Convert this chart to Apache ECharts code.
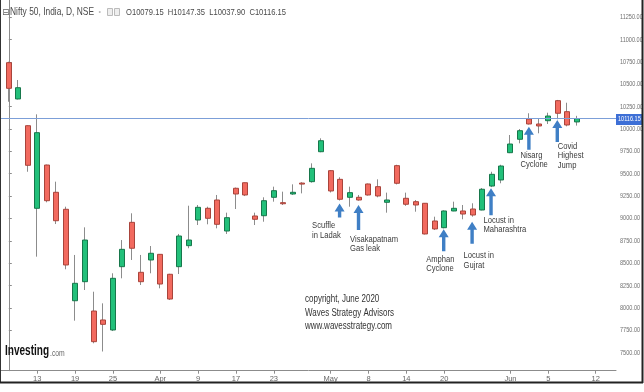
<!DOCTYPE html>
<html><head><meta charset="utf-8">
<script src="https://cdn.jsdelivr.net/npm/echarts@6/dist/echarts.min.js"></script>
<style>html,body{margin:0;padding:0;background:#fff}#c{width:644px;height:392px}</style>
</head><body><div id="c"></div>
<script>
// trading days (index 0 = 9 Mar 2020)
const dates = ['Mar 9','Mar 11','Mar 12','Mar 13','Mar 16','Mar 17','Mar 18','Mar 19','Mar 20','Mar 23','Mar 24','Mar 25','Mar 26','Mar 27','Mar 30','Mar 31',
  'Apr 1','Apr 3','Apr 7','Apr 8','Apr 9','Apr 13','Apr 15','Apr 16','Apr 17','Apr 20','Apr 21','Apr 22','Apr 23','Apr 24','Apr 27','Apr 28','Apr 29','Apr 30',
  'May 4','May 5','May 6','May 7','May 8','May 11','May 12','May 13','May 14','May 15','May 18','May 19','May 20','May 21','May 22','May 26','May 27','May 28','May 29',
  'Jun 1','Jun 2','Jun 3','Jun 4','Jun 5','Jun 8','Jun 9','Jun 10','Jun 11','Jun 12'];
const openV  = [10742,10336,10037,9113,9597,9292,9102,8079,8292,7964,7864,7752,8460,8956,8397,8535,
  8598,8375,8460,8695,8982,9113,9206,8859,9337,9399,9027,9030,9236,9176,9273,9395,9411,9746,
  9534,9437,9236,9236,9385,9355,9180,9590,9225,9187,9169,8971,8896,9083,9083,9105,9094,9362,9430,
  9735,9885,10112,10056,10093,10317,10194,10079.15];
const highV  = [10753,10548,10040,10164,9602,9411,9131,8591,8900,8180,8050,8386,8758,9057,8591,8691,
  8600,8380,8826,9142,9150,9131,9262,9064,9345,9400,9064,9236,9355,9299,9381,9405,9616,9896,
  9540,9460,9355,9262,9390,9437,9288,9600,9288,9206,9170,9019,9090,9187,9150,9169,9340,9522,9600,
  9933,10000,10176,10112,10182,10325,10294,10147.35];
const lowV   = [10305,10330,9522,8572,9180,8937,8431,7856,8199,7603,7511,7740,8330,8535,8255,8386,
  8218,8087,8378,8666,8926,8934,8889,8826,9105,9250,8926,8963,9187,9150,9262,9280,9400,9740,
  9290,9200,9131,9198,9255,9236,9064,9380,9140,9075,8820,8870,8888,9080,8990,9019,9090,9350,9393,
  9730,9840,10050,9952,10056,10109,10030,10037.90];
const closeV = [10455,10462,9594,9959,9198,8974,8479,8274,8758,7621,7815,8330,8654,8666,8292,8610,
  8266,8098,8803,8758,9124,9001,8934,9008,9273,9262,8990,9198,9310,9164,9292,9385,9560,9869,
  9307,9214,9288,9206,9262,9251,9206,9393,9158,9150,8826,8882,9083,9113,9049,9038,9326,9493,9586,
  9832,9981,10056,10034,10145,10176,10045,10116.15];
const xLabelIdx  = [3,7,11,16,20,24,28,34,38,42,46,53,57,62];
const xLabelText = ['13','19','25','Apr','9','17','23','May','8','14','20','Jun','5','12'];
const yTicks = [7500,7750,8000,8250,8500,8750,9000,9250,9500,9750,10000,10250,10500,10750,11000,11250];
const lastPrice = 10116.15;
const notes = [
  {i:35, v:9167,  len:14, dx:-28, dy:22, lines:['Scuffle','in Ladak']},
  {i:37, v:9150,  len:25, dx:-9,  dy:34, lines:['Visakapatnam','Gas leak']},
  {i:46, v:8878,  len:22, dx:-18, dy:30, lines:['Amphan','Cyclone']},
  {i:49, v:8963,  len:22, dx:-9,  dy:34, lines:['Locust in','Gujrat']},
  {i:51, v:9337,  len:27, dx:-8,  dy:32, lines:['Locust in','Maharashtra']},
  {i:55, v:10026, len:23, dx:-9,  dy:28.5, lines:['Nisarg','Cyclone']},
  {i:58, v:10101, len:22, dx:0,   dy:26, lines:['Covid','Highest','Jump']}
];
const copyLines = ['copyright, June 2020','Waves Strategy Advisors','www.wavesstrategy.com'];

const FONT = '"Liberation Sans",Arial,sans-serif';
const NARROW = 0.8;
const RED = '#f26a5f', RED_B = '#a9443b', GRN = '#22c07a', GRN_B = '#17774b', WICK = '#8c8c8c';

const candles = openV.map((o, i) => [i, o, closeV[i], lowV[i], highV[i]]);

const chart = echarts.init(document.getElementById('c'), null, {renderer: 'canvas'});
const option = {
  animation: false,
  backgroundColor: '#fff',
  grid: {left: 1, right: 28, top: 0, bottom: 21.3},
  xAxis: {
    type: 'value', min: -0.824, max: 64.15,
    axisLine: {show: true, lineStyle: {color: '#8c8c8c', width: 1}},
    axisTick: {show: true, customValues: xLabelIdx, length: 3, lineStyle: {color: '#8c8c8c'}},
    axisLabel: {show: true, customValues: xLabelIdx, margin: 4, fontSize: 7.5, color: '#666', fontFamily: FONT,
      formatter: v => { const k = xLabelIdx.indexOf(Math.round(v)); return k >= 0 ? xLabelText[k] : ''; }},
    splitLine: {show: false}
  },
  yAxis: {
    type: 'value', position: 'right', min: 7296.4, max: 11443, scale: true,
    axisLine: {show: true, lineStyle: {color: '#8c8c8c', width: 1}},
    axisTick: {show: true, customValues: yTicks, length: 3, lineStyle: {color: '#8c8c8c'}},
    axisLabel: {show: false},
    splitLine: {show: false}
  },
  series: [{
    type: 'custom',
    clip: true,
    data: candles,
    renderItem: function (params, api) {
      const i = api.value(0), o = api.value(1), c = api.value(2), l = api.value(3), h = api.value(4);
      const pO = api.coord([i, o]), pC = api.coord([i, c]), pL = api.coord([i, l]), pH = api.coord([i, h]);
      const px = Math.round(pO[0]);
      const up = c >= o;
      const top = Math.min(pO[1], pC[1]), bot = Math.max(pO[1], pC[1]);
      return {type: 'group', children: [
        {type: 'line', shape: {x1: px - 0.5, y1: pH[1], x2: px - 0.5, y2: pL[1]}, style: {stroke: WICK, lineWidth: 1}},
        {type: 'rect', shape: {x: px - 2.5, y: top, width: 5, height: Math.max(bot - top, 1)},
          style: {fill: up ? GRN : RED, stroke: up ? GRN_B : RED_B, lineWidth: 1}}
      ]};
    },
    markLine: {
      symbol: 'none', silent: true, animation: false,
      lineStyle: {color: '#7c9fd8', width: 1, type: 'solid'},
      label: {show: false},
      data: [{yAxis: lastPrice}]
    }
  }]
};
chart.setOption(option);

const g = [];
function txt(x, y, text, size, fill, opts) {
  return Object.assign({type: 'text', x: x, y: y, scaleX: NARROW, z: 60,
    style: {text: text, fill: fill, font: size + 'px ' + FONT, textVerticalAlign: 'middle', verticalAlign: 'middle'}}, opts || {});
}
// frame
g.push({type: 'line', shape: {x1: 0.5, y1: 0, x2: 0.5, y2: 383}, style: {stroke: '#333', lineWidth: 1}, z: 100});
g.push({type: 'line', shape: {x1: 0, y1: 382.5, x2: 643, y2: 382.5}, style: {stroke: '#222', lineWidth: 2}, z: 100});
g.push({type: 'line', shape: {x1: 642.5, y1: 0, x2: 642.5, y2: 383}, style: {stroke: '#222', lineWidth: 2}, z: 100});
// y-axis tick labels (from yTicks through the axis scale)
yTicks.forEach(v => {
  const p = chart.convertToPixel({gridIndex: 0}, [0, v]);
  g.push(txt(620, p[1], v.toFixed(2), 7.5, '#707070', {scaleX: 0.74}));
});
// last price tag
const lp = chart.convertToPixel({gridIndex: 0}, [0, lastPrice]);
g.push({type: 'rect', z: 70, shape: {x: 616, y: Math.round(lp[1]) - 5, width: 26, height: 11}, style: {fill: '#3d6fd6'}});
g.push(txt(618, lp[1] + 0.5, lastPrice.toFixed(2), 7.5, '#fff', {scaleX: 0.74, z: 71}));
// header
g.push({type: 'text', x: 2, y: 12.5, style: {text: '⊟', font: '9px "DejaVu Sans",sans-serif', fill: '#666', textVerticalAlign: 'middle', verticalAlign: 'middle'}});
g.push(txt(10, 12.5, 'Nifty 50, India, D, NSE', 10.5, '#4a4a4a'));
g.push({type: 'text', x: 98.5, y: 12.5, style: {text: '•', fill: '#bbb', font: '7px sans-serif', textVerticalAlign: 'middle', verticalAlign: 'middle'}});
g.push({type: 'rect', shape: {x: 107.5, y: 8.5, width: 5, height: 7}, style: {fill: '#eee', stroke: '#bbb', lineWidth: 1}});
g.push({type: 'rect', shape: {x: 114.5, y: 8.5, width: 5, height: 7}, style: {fill: '#eee', stroke: '#bbb', lineWidth: 1}});
g.push(txt(126, 12.5, 'O' + openV[60].toFixed(2) + '  H' + highV[60].toFixed(2) + '  L' + lowV[60].toFixed(2) + '  C' + closeV[60].toFixed(2), 9.5, '#4a4a4a'));
// logo
g.push({type: 'text', x: 5, y: 358.5, scaleX: 0.67, z: 60,
  style: {text: 'Investing', fill: '#111', font: 'bold 15px ' + FONT, textVerticalAlign: 'bottom', verticalAlign: 'bottom'}});
g.push({type: 'text', x: 50, y: 358.5, scaleX: 0.8, z: 60,
  style: {text: '.com', fill: '#666', font: '8.5px ' + FONT, textVerticalAlign: 'bottom', verticalAlign: 'bottom'}});
// copyright
copyLines.forEach((t, k) => g.push(txt(305, 299.5 + k * 13.5, t, 10, '#333')));
// annotation arrows
notes.forEach(n => {
  const p = chart.convertToPixel({gridIndex: 0}, [n.i, n.v]);
  const x = p[0] - 0.5, y = p[1];
  g.push({type: 'polygon', z: 50, shape: {points: [[x, y], [x + 5, y + 8], [x + 1.7, y + 8], [x + 1.7, y + n.len], [x - 1.7, y + n.len], [x - 1.7, y + 8], [x - 5, y + 8]]},
    style: {fill: '#3f7fc5'}});
  n.lines.forEach((t, k) => g.push(txt(p[0] + n.dx, y + n.dy + k * 9.5, t, 9.5, '#3a3a3a')));
});
chart.setOption({graphic: {elements: g}});
</script></body></html>
